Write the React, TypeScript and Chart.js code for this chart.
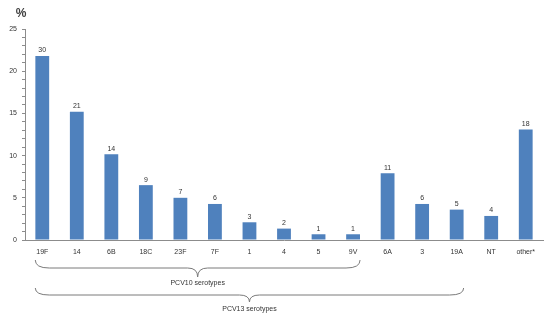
import React, { useEffect, useRef } from "react";
import { Chart, registerables } from "chart.js";

Chart.register(...registerables);

const categories = ["19F", "14", "6B", "18C", "23F", "7F", "1", "4", "5", "9V", "6A", "3", "19A", "NT", "other*"];
const percentages = [21.8, 15.2, 10.15, 6.5, 5.0, 4.27, 2.1, 1.35, 0.68, 0.68, 7.9, 4.27, 3.6, 2.85, 13.1];
const counts = ["30", "21", "14", "9", "7", "6", "3", "2", "1", "1", "11", "6", "5", "4", "18"];
const braceGroups = [
  { label: "PCV10 serotypes", from: 0, to: 9 },
  { label: "PCV13 serotypes", from: 0, to: 12 },
];

const FONT = "'Liberation Sans', Arial, sans-serif";

function drawBrace(ctx: CanvasRenderingContext2D, x1: number, x2: number, y0: number, h: number, d: number) {
  const mid = (x1 + x2) / 2;
  const r = 14;
  const rt = 10;
  ctx.beginPath();
  ctx.moveTo(x1, y0);
  ctx.quadraticCurveTo(x1, y0 + h, x1 + r, y0 + h);
  ctx.lineTo(mid - rt, y0 + h);
  ctx.quadraticCurveTo(mid, y0 + h, mid, y0 + h + d);
  ctx.quadraticCurveTo(mid, y0 + h, mid + rt, y0 + h);
  ctx.lineTo(x2 - r, y0 + h);
  ctx.quadraticCurveTo(x2, y0 + h, x2, y0);
  ctx.stroke();
}

const annotationsPlugin = {
  id: "annotations",
  afterDraw(chart: any) {
    const ctx = chart.ctx as CanvasRenderingContext2D;
    const meta = chart.getDatasetMeta(0);
    ctx.save();
    ctx.fillStyle = "#333333";
    ctx.font = `7px ${FONT}`;
    ctx.textAlign = "center";
    ctx.textBaseline = "bottom";
    meta.data.forEach((bar: any, i: number) => {
      ctx.fillText(counts[i], bar.x, bar.y - 2);
    });
    ctx.font = `bold 12px ${FONT}`;
    ctx.textAlign = "center";
    ctx.textBaseline = "middle";
    ctx.fillStyle = "#404040";
    ctx.fillText("%", 21, 14);
    const xs = chart.scales.x;
    const bottom = chart.chartArea.bottom;
    ctx.strokeStyle = "#7a7a7a";
    ctx.lineWidth = 1;
    const specs = [
      { y0: bottom + 20, h: 8, d: 9, ly: bottom + 43 },
      { y0: bottom + 48, h: 7, d: 7, ly: bottom + 69 },
    ];
    braceGroups.forEach((g, k) => {
      const s = specs[k];
      const x1 = xs.getPixelForValue(g.from) - 7;
      const x2 = xs.getPixelForValue(g.to) + 7;
      drawBrace(ctx, x1, x2, s.y0, s.h, s.d);
      ctx.fillStyle = "#333333";
      ctx.font = `7px ${FONT}`;
      ctx.textAlign = "center";
      ctx.textBaseline = "middle";
      ctx.fillText(g.label, (x1 + x2) / 2, s.ly);
    });
    ctx.restore();
  },
};

export default function App() {
  const ref = useRef<HTMLCanvasElement>(null);
  useEffect(() => {
    document.body.style.margin = "0";
    const chart = new Chart(ref.current!, {
      type: "bar",
      data: {
        labels: categories,
        datasets: [
          {
            data: percentages,
            backgroundColor: "#4F81BD",
            barPercentage: 0.4,
            categoryPercentage: 1,
          },
        ],
      },
      options: {
        animation: false,
        responsive: false,
        maintainAspectRatio: false,
        layout: { padding: { top: 29, right: 7, left: 0, bottom: 0 } },
        plugins: { legend: { display: false }, tooltip: { enabled: false } },
        scales: {
          x: {
            grid: { display: false, drawTicks: false },
            border: { display: true, color: "#8c8c8c" },
            ticks: { color: "#333333", font: { size: 7, family: FONT }, padding: 8, maxRotation: 0, autoSkip: false },
            afterFit: (s: any) => {
              s.height = 78;
            },
          },
          y: {
            min: 0,
            max: 25,
            grid: { display: true, drawOnChartArea: false, drawTicks: true, tickLength: 3, color: "#8c8c8c" },
            border: { display: true, color: "#8c8c8c" },
            ticks: {
              stepSize: 1,
              autoSkip: false,
              color: "#333333",
              padding: 5,
              font: { size: 7, family: FONT },
              callback: (v: any) => (Number(v) % 5 === 0 ? String(v) : ""),
            },
            afterFit: (s: any) => {
              s.width = 25;
            },
          },
        },
      },
      plugins: [annotationsPlugin],
    });
    return () => chart.destroy();
  }, []);
  return (
    <div style={{ width: 550, height: 318, background: "#fff" }}>
      <canvas ref={ref} width={550} height={318} style={{ display: "block" }} />
    </div>
  );
}
